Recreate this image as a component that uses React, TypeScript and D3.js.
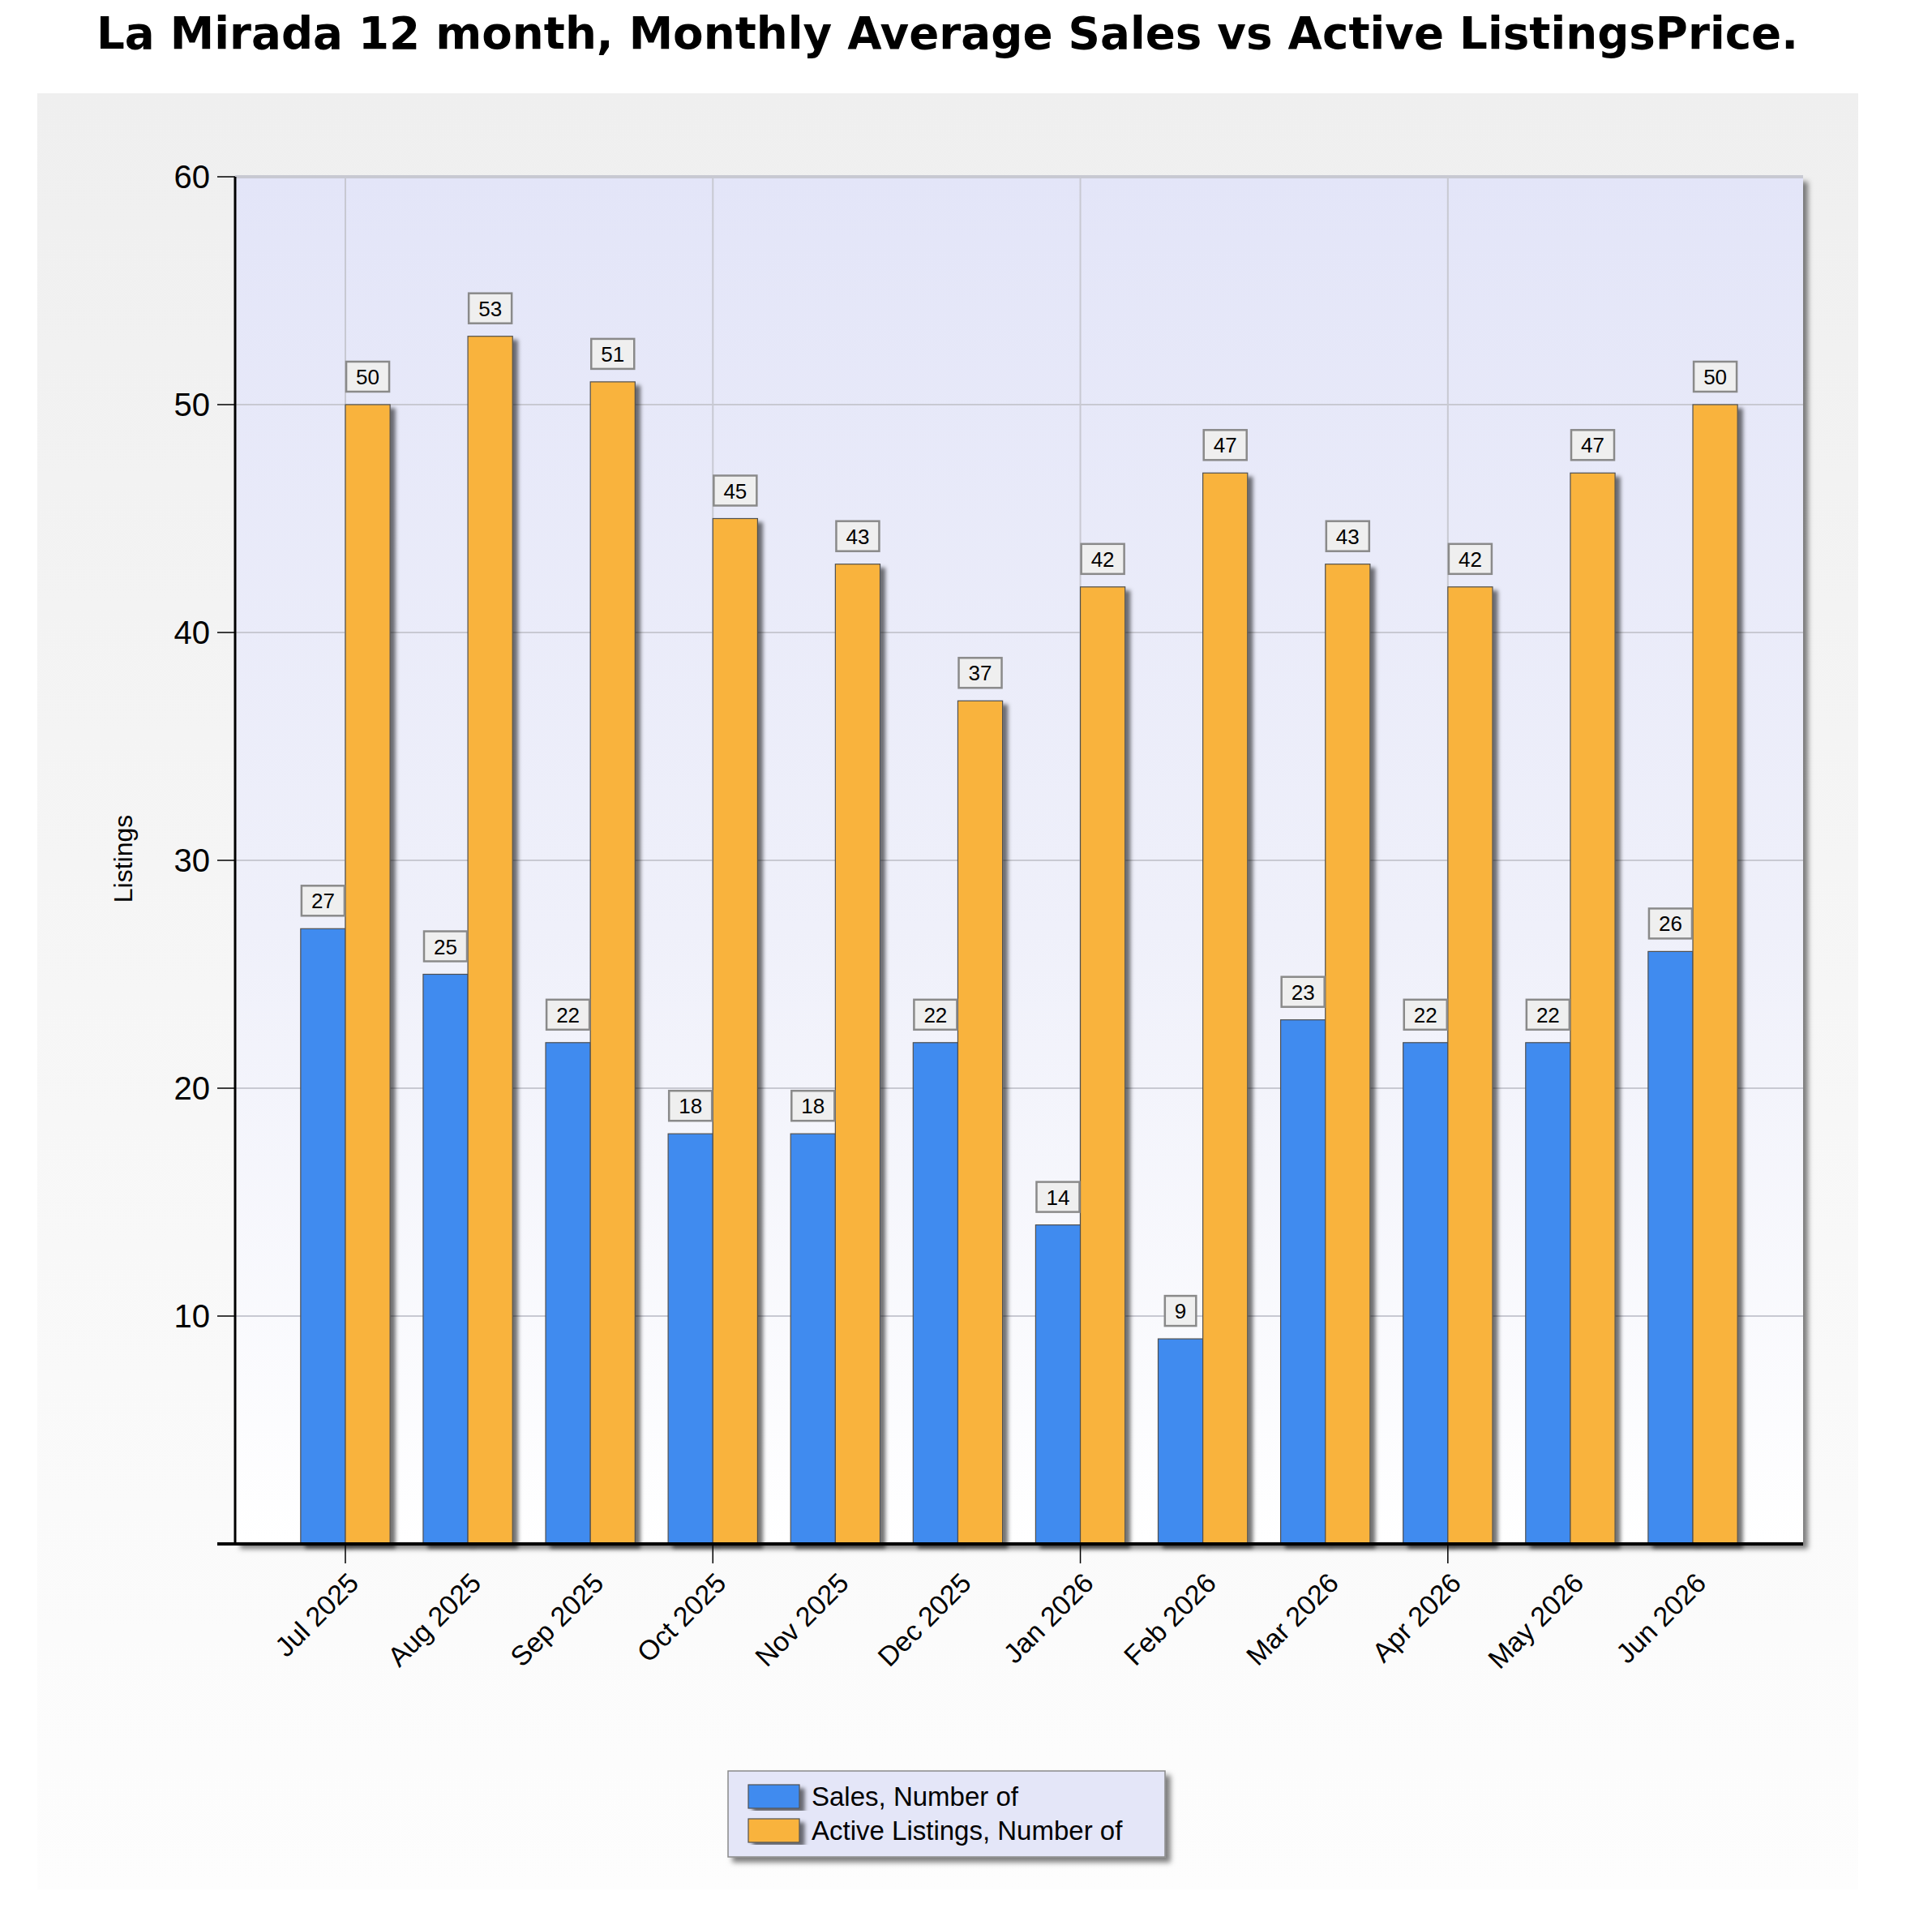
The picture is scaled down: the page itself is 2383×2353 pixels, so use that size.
import React from 'react';
import * as d3 from 'd3';

const months = ['Jul 2025', 'Aug 2025', 'Sep 2025', 'Oct 2025', 'Nov 2025', 'Dec 2025', 'Jan 2026', 'Feb 2026', 'Mar 2026', 'Apr 2026', 'May 2026', 'Jun 2026'];
const sales = [27, 25, 22, 18, 18, 22, 14, 9, 23, 22, 22, 26];
const active = [50, 53, 51, 45, 43, 37, 42, 47, 43, 42, 47, 50];
const seriesNames = ['Sales, Number of', 'Active Listings, Number of'];
const yTicks = [10, 20, 30, 40, 50, 60];

const W = 2383;
const H = 2353;
const plot = { left: 290, right: 2224, top: 218, bottom: 1904 };
const colors = ['#418bef', '#f9b33e'];
const font = '"Liberation Sans", Arial, sans-serif';

const App: React.FC = () => {
  const x0 = d3.scaleBand<string>()
    .domain(months)
    .range([plot.left, plot.right])
    .paddingInner(0.27)
    .paddingOuter(0.535);
  const x1 = d3.scaleBand<number>()
    .domain([0, 1])
    .range([0, x0.bandwidth()]);
  const y = d3.scaleLinear().domain([0, 60]).range([plot.bottom, plot.top]);

  const center = (m: string) => (x0(m) || 0) + x0.bandwidth() / 2;
  const series = [sales, active];

  // every 3rd month gets a vertical gridline + tick
  const majorMonths = months.filter((_, i) => i % 3 === 0);

  return (
    <svg width={W} height={H} style={{ position: 'absolute', left: 0, top: 0, background: '#fff' }}>
      <defs>
        <linearGradient id="panelGrad" x1="0" y1="0" x2="0" y2="1">
          <stop offset="0" stopColor="#efefef" />
          <stop offset="1" stopColor="#fdfdfd" />
        </linearGradient>
        <linearGradient id="plotGrad" x1="0" y1="0" x2="0" y2="1">
          <stop offset="0" stopColor="#e3e5f8" />
          <stop offset="0.55" stopColor="#eff0fa" />
          <stop offset="1" stopColor="#ffffff" />
        </linearGradient>
        <filter id="shadow" x="-20%" y="-20%" width="140%" height="140%">
          <feDropShadow dx="6" dy="6" stdDeviation="3" floodColor="#000" floodOpacity="0.5" />
        </filter>
        <filter id="barShadow" x="-30%" y="-10%" width="160%" height="120%">
          <feDropShadow dx="6" dy="5" stdDeviation="2.5" floodColor="#000" floodOpacity="0.55" />
        </filter>
      </defs>

      {/* title */}
      <text x={119} y={60} fontFamily='"DejaVu Sans", Verdana, sans-serif' fontWeight="bold" fontSize={56}
        textLength={2099} lengthAdjust="spacingAndGlyphs">
        La Mirada 12 month, Monthly Average Sales vs Active ListingsPrice.
      </text>

      {/* outer panel */}
      <rect x={46} y={115} width={2246} height={2215} fill="url(#panelGrad)" />

      {/* plot background */}
      <rect x={plot.left} y={plot.top} width={plot.right - plot.left} height={plot.bottom - plot.top}
        fill="url(#plotGrad)" filter="url(#shadow)" />

      {/* gridlines */}
      {yTicks.map(t => (
        <line key={'gy' + t} x1={plot.left} x2={plot.right} y1={y(t)} y2={y(t)}
          stroke="#c8c9d2" strokeWidth={t === 60 ? 4 : 2} />
      ))}
      {majorMonths.map(m => (
        <line key={'gx' + m} x1={center(m)} x2={center(m)} y1={plot.top} y2={plot.bottom}
          stroke="#c8c9d2" strokeWidth={2} />
      ))}

      {/* bars */}
      {months.map((m, i) => (
        <g key={m} transform={`translate(${x0(m)},0)`}>
          {series.map((s, k) => (
            <rect key={k} x={x1(k)} y={y(s[i])} width={x1.bandwidth()} height={plot.bottom - y(s[i])}
              fill={colors[k]} stroke="#505050" strokeWidth={1.2} filter="url(#barShadow)" />
          ))}
        </g>
      ))}

      {/* value labels */}
      {months.map((m, i) => series.map((s, k) => {
        const v = s[i];
        const txt = String(v);
        const bw = txt.length * 14.5 + 24;
        const cx = (x0(m) || 0) + (x1(k) || 0) + x1.bandwidth() / 2;
        const by = y(v) - 16 - 37;
        return (
          <g key={m + k}>
            <rect x={cx - bw / 2} y={by} width={bw} height={37} fill="#efefef" stroke="#8a8a8a" strokeWidth={2.5} />
            <text x={cx} y={by + 28} textAnchor="middle" fontFamily={font} fontSize={26} fill="#000">{txt}</text>
          </g>
        );
      }))}

      {/* axes */}
      <line x1={plot.left} x2={plot.left} y1={plot.top} y2={plot.bottom} stroke="#000" strokeWidth={3} />
      <line x1={plot.left - 22} x2={plot.right} y1={plot.bottom} y2={plot.bottom} stroke="#000" strokeWidth={4} />
      {yTicks.map(t => (
        <g key={'yt' + t}>
          <line x1={plot.left - 22} x2={plot.left} y1={y(t)} y2={y(t)} stroke="#000" strokeWidth={1.5} />
          <text x={plot.left - 31} y={y(t) + 14} textAnchor="end" fontFamily={font} fontSize={40} fill="#000">{t}</text>
        </g>
      ))}
      {majorMonths.map(m => (
        <line key={'xt' + m} x1={center(m)} x2={center(m)} y1={plot.bottom} y2={plot.bottom + 24}
          stroke="#000" strokeWidth={1.5} />
      ))}
      {months.map(m => (
        <text key={'xl' + m} transform={`translate(${center(m) + 10},${plot.bottom + 42}) rotate(-45)`}
          textAnchor="end" fontFamily={font} fontSize={34} fill="#000" dy="0.35em">{m}</text>
      ))}

      {/* y axis title */}
      <text transform={`translate(163,1059) rotate(-90)`} textAnchor="middle" fontFamily={font} fontSize={32} fill="#000">
        Listings
      </text>

      {/* legend */}
      <rect x={898} y={2184} width={539} height={106} fill="#e4e6f8" stroke="#8a8a8a" strokeWidth={1.5} filter="url(#shadow)" />
      {seriesNames.map((name, k) => (
        <g key={name}>
          <rect x={923} y={2201 + k * 42} width={63} height={29} fill={colors[k]} stroke="#505050" strokeWidth={1.2}
            filter="url(#barShadow)" />
          <text x={1001} y={2227 + k * 42} fontFamily={font} fontSize={33} fill="#000">{name}</text>
        </g>
      ))}
    </svg>
  );
};

export default App;
